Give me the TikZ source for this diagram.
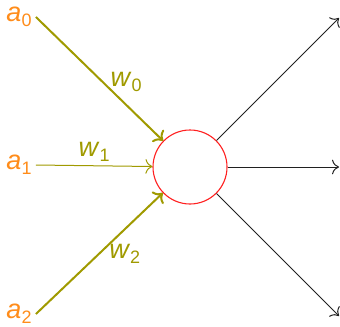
\documentclass[tikz,border=0pt]{standalone}
\usepackage{fontspec}
\setmainfont{Liberation Sans}
\usepackage{xcolor}
\usepackage{tikz}
\usetikzlibrary{arrows.meta,positioning}
\definecolor{inorange}{HTML}{FF8C1A}
\definecolor{olive}{HTML}{A09A00}
\definecolor{neured}{HTML}{FF2020}
\definecolor{outgray}{HTML}{202020}
\newcommand{\sublbl}[2]{\textit{#1}\raisebox{-.35ex}{\fontsize{9}{10}\selectfont #2}}
\tikzset{
  inlabel/.style={text=inorange,font=\fontsize{13.5}{15}\selectfont,inner sep=2pt},
  wlabel/.style={text=olive,font=\fontsize{13.5}{15}\selectfont,inner sep=1pt},
  neuron/.style={circle,draw=neured,line width=.55pt,minimum size=37pt,inner sep=0pt},
  wthick/.style={-{To[length=4pt]},draw=olive,line width=1pt},
  wthin/.style={-{To[length=3.5pt]},draw=olive,line width=.5pt},
  outflow/.style={-{To[length=3.5pt]},draw=outgray,line width=.5pt}
}
\begin{document}
\begin{tikzpicture}[x=.5pt,y=-.5pt]
  \useasboundingbox (0,0) rectangle (340,326);
  \node[neuron] (n) at (190,167) {};
  \node[inlabel] (a0) at (19,17) {\sublbl{a}{0}};
  \node[inlabel] (a1) at (19,165) {\sublbl{a}{1}};
  \node[inlabel] (a2) at (19,314) {\sublbl{a}{2}};
  \coordinate (o0) at (339,18);
  \coordinate (o1) at (339,167);
  \coordinate (o2) at (339,316);
  % inputs
  \draw[wthick] (a0.east) -- (n) node[wlabel,pos=.71,above=5pt] {\sublbl{w}{0}};
  \draw[wthin] (a1.east) -- (n) node[wlabel,pos=.5,above=1pt] {\sublbl{w}{1}};
  \draw[wthick] (a2.east) -- (n) node[wlabel,pos=.7,below=6pt] {\sublbl{w}{2}};
  % outputs
  \draw[outflow] (n) -- (o0);
  \draw[outflow] (n) -- (o1);
  \draw[outflow] (n) -- (o2);
\end{tikzpicture}
\end{document}
